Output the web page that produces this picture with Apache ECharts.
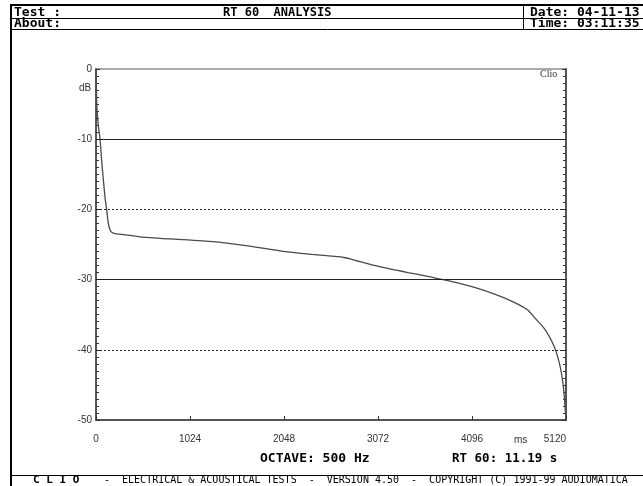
<!DOCTYPE html>
<html>
<head>
<meta charset="utf-8">
<script src="https://cdn.jsdelivr.net/npm/echarts@6/dist/echarts.min.js"></script>
<style>
  html, body { margin: 0; padding: 0; background: #fff; }
  #chart { width: 643px; height: 486px; }
</style>
</head>
<body>
<div id="chart"></div>
<script>
// Schroeder decay curve, 500 Hz octave band
const timeMs = [0, 4, 8, 15, 25, 44, 60, 80, 100, 116, 132, 152, 175, 210, 300, 480,
  800, 1275, 1650, 2005, 2350, 2600, 2700, 2770, 2850, 3100, 3400, 3640, 3780,
  3950, 4150, 4350, 4550, 4700, 4790, 4880, 4950, 5000, 5030, 5060, 5085, 5100, 5110, 5120];
const levelDb = [0, -2.5, -5, -6.5, -8, -10, -12.8, -15.8, -18.5, -20, -21.8, -22.9, -23.3, -23.45, -23.6, -23.9,
  -24.2, -24.6, -25.2, -25.9, -26.4, -26.7, -26.85, -27.05, -27.35, -28.2, -29.0, -29.6, -30.0,
  -30.5, -31.2, -32.1, -33.2, -34.3, -35.6, -36.9, -38.4, -39.8, -41.0, -42.6, -44.6, -46.4, -48.2, -50];

// Reference levels drawn across the plot
const gridLevels = [-10, -20, -30, -40];
const gridDotted = [false, true, false, true];

const xTicks = [0, 1024, 2048, 3072, 4096, 5120];
const yTicks = [0, -10, -20, -30, -40, -50];

const headerTitle = 'RT 60  ANALYSIS';
const headerDate = 'Date: 04-11-13';
const headerTime = 'Time: 03:11:35';
const octaveText = 'OCTAVE: 500 Hz';
const rt60Text = 'RT 60: 11.19 s';

const mono = '"DejaVu Sans Mono", "Liberation Mono", monospace';
const sans = '"Liberation Sans", Arial, sans-serif';

const chart = echarts.init(document.getElementById('chart'), null, { renderer: 'canvas' });

const axisColor = '#555';
const yAxisBase = {
  type: 'value', min: -50, max: 0, interval: 10,
  axisLine: { show: true, lineStyle: { color: axisColor, width: 2 } },
  axisTick: { show: true, inside: true, length: 4, lineStyle: { color: '#333' } },
  minorTick: { show: true, splitNumber: 10, length: 3, lineStyle: { color: '#333' } },
  splitLine: { show: false }
};

chart.setOption({
  animation: false,
  backgroundColor: '#fff',
  grid: { left: 96, right: 77, top: 69, bottom: 66, show: true, borderColor: axisColor, borderWidth: 1 },
  xAxis: {
    type: 'value', min: 0, max: 5120, interval: 1024,
    axisLine: { show: true, onZero: false, lineStyle: { color: axisColor, width: 2 } },
    axisTick: { show: true, inside: true, length: 4, lineStyle: { color: '#333' } },
    axisLabel: {
      color: '#333', fontFamily: sans, fontSize: 10, margin: 14,
      showMinLabel: true, showMaxLabel: true, alignMaxLabel: 'right',
      formatter: v => (xTicks.indexOf(v) >= 0 ? String(v) : '')
    },
    splitLine: { show: false }
  },
  yAxis: [
    Object.assign({}, yAxisBase, {
      position: 'left',
      axisLabel: { color: '#333', fontFamily: sans, fontSize: 10, margin: 4,
        formatter: v => (yTicks.indexOf(v) >= 0 ? String(v) : '') }
    }),
    Object.assign({}, yAxisBase, {
      position: 'right',
      axisLabel: { show: false }
    })
  ],
  series: [{
    type: 'line',
    yAxisIndex: 0,
    data: timeMs.map((t, i) => [t, levelDb[i]]),
    showSymbol: false,
    smooth: 0.2,
    lineStyle: { color: '#4a4a4a', width: 1.3 },
    markLine: {
      silent: true,
      symbol: ['none', 'none'],
      label: { show: false },
      animation: false,
      data: gridLevels.map((lv, i) => ({
        yAxis: lv,
        lineStyle: { color: '#222', width: 1, type: gridDotted[i] ? [2, 2] : 'solid' }
      }))
    },
    z: 3
  }],
  graphic: [
    // page frame
    { type: 'rect', shape: { x: 10, y: 4, width: 633, height: 2 }, style: { fill: '#000' } },
    { type: 'rect', shape: { x: 10, y: 4, width: 2, height: 482 }, style: { fill: '#000' } },
    { type: 'line', shape: { x1: 12, y1: 18.5, x2: 643, y2: 18.5 }, style: { stroke: '#000', lineWidth: 1 } },
    { type: 'line', shape: { x1: 12, y1: 29.5, x2: 643, y2: 29.5 }, style: { stroke: '#000', lineWidth: 1 } },
    { type: 'line', shape: { x1: 523.5, y1: 6, x2: 523.5, y2: 29 }, style: { stroke: '#000', lineWidth: 1 } },
    { type: 'line', shape: { x1: 12, y1: 475.5, x2: 643, y2: 475.5 }, style: { stroke: '#000', lineWidth: 1 } },
    // header text
    { type: 'text', x: 14, y: 12.5, style: { text: 'Test :', font: 'bold 13px ' + mono, fill: '#000', textVerticalAlign: 'middle' } },
    { type: 'text', x: 14, y: 24, style: { text: 'About:', font: 'bold 13px ' + mono, fill: '#000', textVerticalAlign: 'middle' } },
    { type: 'text', x: 223, y: 12.5, style: { text: headerTitle, font: 'bold 12px ' + mono, fill: '#000', textVerticalAlign: 'middle' } },
    { type: 'text', x: 530, y: 12.5, style: { text: headerDate, font: 'bold 13px ' + mono, fill: '#000', textVerticalAlign: 'middle' } },
    { type: 'text', x: 530, y: 24, style: { text: headerTime, font: 'bold 13px ' + mono, fill: '#000', textVerticalAlign: 'middle' } },
    // plot annotations
    { type: 'text', x: 79, y: 88, style: { text: 'dB', font: '10px ' + sans, fill: '#333', textVerticalAlign: 'middle' } },
    { type: 'text', x: 540, y: 74, style: { text: 'Clio', font: '10px "Liberation Serif", serif', fill: '#333', textVerticalAlign: 'middle' } },
    { type: 'text', x: 514, y: 440, style: { text: 'ms', font: '10px ' + sans, fill: '#333', textVerticalAlign: 'middle' } },
    { type: 'text', x: 260, y: 459, style: { text: octaveText, font: 'bold 13px ' + mono, fill: '#000', textVerticalAlign: 'middle' } },
    { type: 'text', x: 452, y: 459, style: { text: rt60Text, font: 'bold 12.5px ' + mono, fill: '#000', textVerticalAlign: 'middle' } },
    // footer
    { type: 'text', x: 33, y: 480, style: { text: 'C L I O', font: 'bold 11px ' + mono, fill: '#000', textVerticalAlign: 'middle' } },
    { type: 'text', x: 104, y: 480, style: { text: '-  ELECTRICAL & ACOUSTICAL TESTS  -  VERSION 4.50  -  COPYRIGHT (C) 1991-99 AUDIOMATICA', font: '10px ' + mono, fill: '#000', textVerticalAlign: 'middle' } }
  ]
});
</script>
</body>
</html>
